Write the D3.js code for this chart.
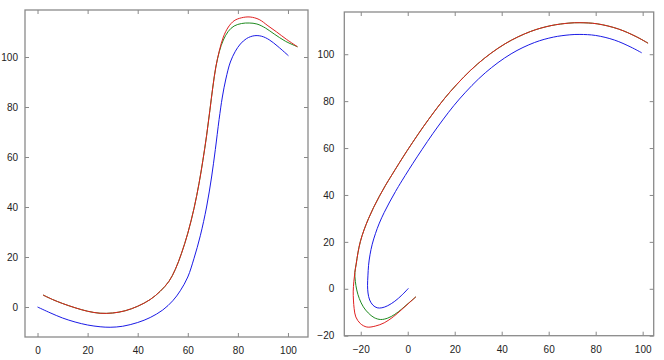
<!DOCTYPE html>
<html>
<head>
<meta charset="utf-8">
<script src="https://cdn.jsdelivr.net/npm/d3@7"></script>
<style>
  html, body { margin: 0; padding: 0; background: #fff; }
  svg { display: block; }
  .tick text { font-family: "Liberation Sans", Arial, sans-serif; font-size: 10px; fill: #222; }
</style>
</head>
<body>
<svg id="chart" width="664" height="360"></svg>
<script>
// ---- Data ----
// Left panel
const leftBlue = [[0,0],[5,-2.3],[10,-4.4],[15,-6],[20,-7.2],[25,-7.9],[29,-8.1],[34,-7.7],[40,-6.2],[45,-4.2],[50,-1.2],[54,2.5],[57,6.5],[60,12],[62.5,19.5],[65,28.5],[67.5,40],[69.5,52],[71,63],[72.5,75],[73.8,84],[75.2,91.2],[77,98],[79,102.3],[81,105.2],[83.5,107.4],[86.5,108.5],[89.5,108.3],[92.5,106.9],[96,104.2],[100.2,100.5]];
const leftGreen = [[2.2,4.8],[6,3],[10,1.4],[15,-0.3],[20,-1.7],[25,-2.5],[30,-2.4],[35,-1.5],[40,0.3],[45,3],[49,6.3],[52.5,10.3],[55,15],[57.5,21.5],[60,29.5],[62.5,39.5],[64.5,49.5],[66,58.5],[67.5,68.5],[68.8,78.5],[70,88],[71.2,96],[72.6,102.2],[74.2,106.8],[76.2,110.3],[78.5,112.4],[81.5,113.4],[84.5,113.6],[87.6,113.2],[91,111.6],[94.5,109.2],[99,106.3],[103.8,104.1]];
const leftRed = [[2.2,4.8],[6,3],[10,1.4],[15,-0.3],[20,-1.7],[25,-2.5],[30,-2.4],[35,-1.5],[40,0.3],[45,3],[49,6.3],[52.5,10.3],[55,15],[57.5,21.5],[60,29.5],[62.5,39.5],[64.5,49.5],[66,58.5],[67.5,68.5],[68.8,78.5],[70,88],[71.2,96],[72.6,102.5],[74.2,108],[76.2,112],[78.5,114.5],[81.5,115.7],[84.9,116],[88.5,115],[92,112.5],[95.5,110],[99.5,107],[103.8,104.1]];
// Right panel
const rightBlue = [[0.3,0.2],[-2.5,-2.7],[-5.5,-5.3],[-8.5,-7.2],[-11,-8.1],[-13,-8.1],[-14.8,-7],[-16.2,-4.8],[-16.9,-1.8],[-17.1,1.5],[-16.95,5.5],[-16.67,10],[-16.06,14.5],[-15.11,19],[-13.75,23.5],[-12.08,28],[-10.03,32.5],[-7.7,37],[-5.19,41.5],[-2.5,46],[4,56.24],[13,69.38],[22,80.9],[33,92.07],[44,100.16],[54,105],[62,107.29],[69,108.27],[73.3,108.44],[80,108],[88,106.04],[95,103.03],[99.6,100.6]];
const rightGreen = [[3.5,-3.4],[0.5,-6],[-2.5,-8.6],[-5.5,-10.9],[-8.5,-12.5],[-11.5,-13.1],[-14.3,-12.3],[-16.8,-10.3],[-18.9,-7.7],[-20.6,-4.2],[-21.7,-0.5],[-22.3,3.2],[-22.5,7],[-21.95,10.5],[-21.2,15.3],[-20.15,20.2],[-18.6,25.1],[-16.69,29.94],[-14.52,34.7],[-12.09,39.41],[-9.53,43.98],[-6.73,48.57],[-0.18,58.99],[8.93,72.29],[18.22,84.17],[29.72,95.84],[41.43,104.45],[52.27,109.69],[61.02,112.2],[68.6,113.26],[73.3,113.44],[80.65,112.96],[89.7,110.75],[97.24,107.5],[102.3,104.7]];
const rightRed = [[3.5,-3.4],[0.5,-6.1],[-2.5,-8.8],[-6.1,-11.9],[-10,-14.5],[-13.8,-15.9],[-17.4,-16.3],[-20.2,-14.8],[-22.1,-12],[-22.8,-8.5],[-23.1,-4.8],[-23.2,-1],[-22.95,3],[-22.5,7],[-21.95,10.5],[-21.2,15.3],[-20.15,20.2],[-18.6,25.1],[-16.69,29.94],[-14.52,34.7],[-12.09,39.41],[-9.53,43.98],[-6.73,48.57],[-0.18,58.99],[8.93,72.29],[18.22,84.17],[29.72,95.84],[41.43,104.45],[52.27,109.69],[61.02,112.2],[68.6,113.26],[73.3,113.44],[80.65,112.96],[89.7,110.75],[97.24,107.5],[102.3,104.7]];

const leftXTicks = [0, 20, 40, 60, 80, 100];
const leftYTicks = [0, 20, 40, 60, 80, 100];
const rightXTicks = [-20, 0, 20, 40, 60, 80, 100];
const rightYTicks = [-20, 0, 20, 40, 60, 80, 100];

const colors = { blue: "#1a1ae6", green: "#1e8a1e", red: "#e02020" };

const svg = d3.select("#chart");

function panel(cfg) {
  const x = d3.scaleLinear().domain(cfg.xDomain).range([cfg.left, cfg.right]);
  const y = d3.scaleLinear().domain(cfg.yDomain).range([cfg.bottom, cfg.top]);
  const g = svg.append("g");

  const ax = (sel) => { sel.select(".domain").remove(); sel.selectAll(".tick line").attr("stroke", "#888"); };

  g.append("g").attr("transform", `translate(0,${cfg.bottom})`)
    .call(d3.axisBottom(x).tickValues(cfg.xTicks).tickSize(-4).tickPadding(10).tickFormat(d3.format("d")))
    .call(ax);
  g.append("g").attr("transform", `translate(0,${cfg.top})`)
    .call(d3.axisTop(x).tickValues(cfg.xTicks).tickSize(-4).tickFormat(""))
    .call(ax);
  g.append("g").attr("transform", `translate(${cfg.left},0)`)
    .call(d3.axisLeft(y).tickValues(cfg.yTicks).tickSize(-4).tickPadding(cfg.yPad).tickFormat(d3.format("d")))
    .call(ax);
  g.append("g").attr("transform", `translate(${cfg.right},0)`)
    .call(d3.axisRight(y).tickValues(cfg.yTicks).tickSize(-4).tickFormat(""))
    .call(ax);

  g.append("rect")
    .attr("x", cfg.left).attr("y", cfg.top)
    .attr("width", cfg.right - cfg.left).attr("height", cfg.bottom - cfg.top)
    .attr("fill", "none").attr("stroke", "#8a8a8a").attr("stroke-width", 1.3);

  const line = d3.line().x(d => x(d[0])).y(d => y(d[1])).curve(d3.curveCatmullRom.alpha(0.5));
  cfg.series.forEach(s => {
    g.append("path").datum(s.data)
      .attr("d", line)
      .attr("fill", "none")
      .attr("stroke", s.color)
      .attr("stroke-width", 1);
  });
}

panel({
  xDomain: [-5, 108], yDomain: [-12, 118.8],
  left: 25, right: 308, top: 10, bottom: 337,
  xTicks: leftXTicks, yTicks: leftYTicks, yPad: 7,
  series: [
    { data: leftBlue, color: colors.blue },
    { data: leftGreen, color: colors.green },
    { data: leftRed, color: colors.red }
  ]
});

panel({
  xDomain: [-27, 104.7], yDomain: [-20, 118],
  left: 344.3, right: 653.7, top: 12, bottom: 335.7,
  xTicks: rightXTicks, yTicks: rightYTicks, yPad: 10,
  series: [
    { data: rightBlue, color: colors.blue },
    { data: rightGreen, color: colors.green },
    { data: rightRed, color: colors.red }
  ]
});
</script>
</body>
</html>
